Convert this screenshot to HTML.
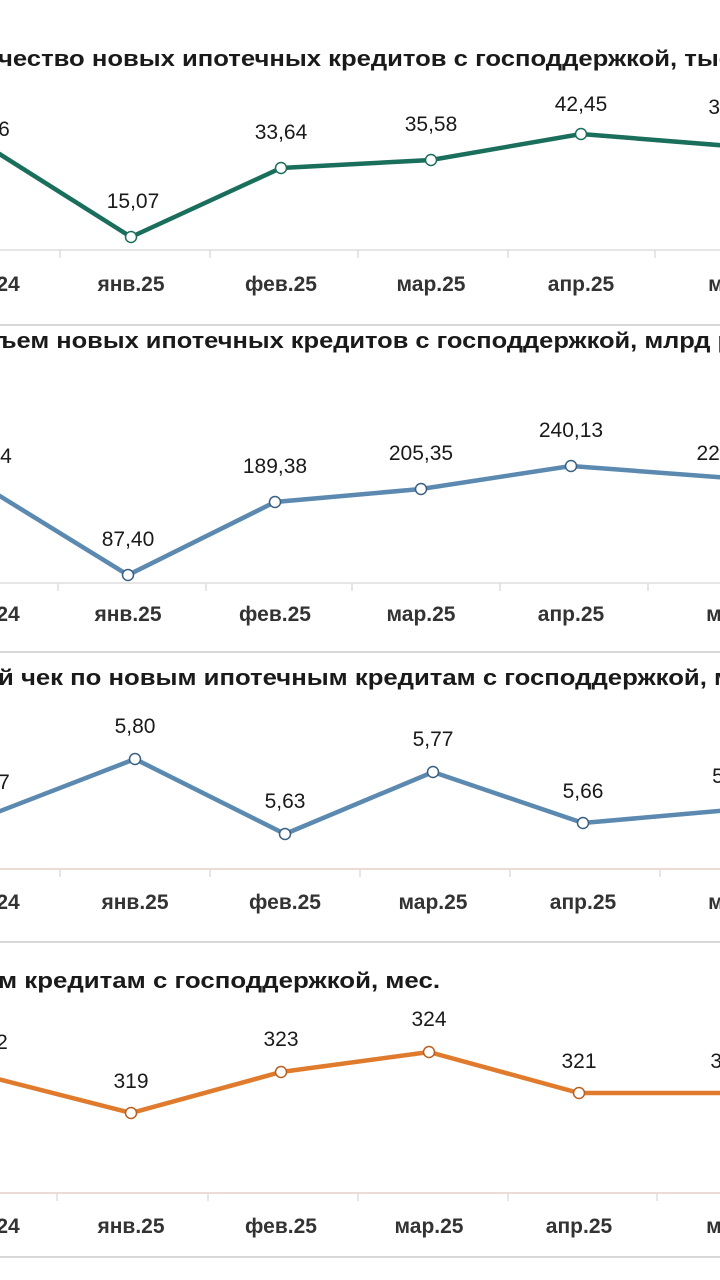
<!DOCTYPE html>
<html><head><meta charset="utf-8"><style>
html,body{margin:0;padding:0;background:#fff;width:720px;height:1280px;overflow:hidden}
svg{display:block}
text{font-family:"Liberation Sans Narrow","Liberation Sans","DejaVu Sans Condensed",sans-serif;fill:#1a1a1a}
.t{font-size:22px;font-weight:bold}
.v{font-size:21px;text-anchor:middle}
.c{font-size:21px;font-weight:bold;text-anchor:middle;fill:#333}
</style></head><body>
<svg width="720" height="1280" viewBox="0 0 720 1280">
<!-- Panel 1 -->
<text class="t" x="-2" y="66" textLength="735" lengthAdjust="spacingAndGlyphs">чество новых ипотечных кредитов с господдержкой, тыс</text>
<line x1="0" y1="250" x2="720" y2="250" stroke="#ddd" stroke-width="1.5"/>
<g stroke="#ddd" stroke-width="1.5"><line x1="60" y1="250" x2="60" y2="258"/><line x1="210" y1="250" x2="210" y2="258"/><line x1="358" y1="250" x2="358" y2="258"/><line x1="508" y1="250" x2="508" y2="258"/><line x1="655" y1="250" x2="655" y2="258"/></g>
<polyline points="-10,148 131,237 281,168 431,160 581,134 730,146" fill="none" stroke="#1a6e5c" stroke-width="4.5"/>
<g fill="#fff" stroke="#1a6e5c" stroke-width="1.5"><circle cx="131" cy="237" r="5.5"/><circle cx="281" cy="168" r="5.5"/><circle cx="431" cy="160" r="5.5"/><circle cx="581" cy="134" r="5.5"/></g>
<text class="v" x="4" y="136">6</text><text class="v" x="133" y="208">15,07</text><text class="v" x="281" y="139">33,64</text><text class="v" x="431" y="131">35,58</text><text class="v" x="581" y="111">42,45</text><text class="v" x="720" y="114">39</text>
<text class="c" x="8" y="291">24</text><text class="c" x="131" y="291">янв.25</text><text class="c" x="281" y="291">фев.25</text><text class="c" x="431" y="291">мар.25</text><text class="c" x="581" y="291">апр.25</text><text class="c" x="728" y="291">май</text>
<line x1="0" y1="325" x2="720" y2="325" stroke="#d8d8d8" stroke-width="2"/>
<!-- Panel 2 -->
<text class="t" x="-2" y="348" textLength="735" lengthAdjust="spacingAndGlyphs">ъем новых ипотечных кредитов с господдержкой, млрд р</text>
<line x1="0" y1="583" x2="720" y2="583" stroke="#ddd" stroke-width="1.5"/>
<g stroke="#ddd" stroke-width="1.5"><line x1="58" y1="583" x2="58" y2="591"/><line x1="206" y1="583" x2="206" y2="591"/><line x1="352" y1="583" x2="352" y2="591"/><line x1="500" y1="583" x2="500" y2="591"/><line x1="648" y1="583" x2="648" y2="591"/></g>
<polyline points="-10,490 128,575 275,502 421,489 571,466 730,478" fill="none" stroke="#5b89b0" stroke-width="4.5"/>
<g fill="#fff" stroke="#3a5f80" stroke-width="1.5"><circle cx="128" cy="575" r="5.5"/><circle cx="275" cy="502" r="5.5"/><circle cx="421" cy="489" r="5.5"/><circle cx="571" cy="466" r="5.5"/></g>
<text class="v" x="6" y="463">4</text><text class="v" x="128" y="546">87,40</text><text class="v" x="275" y="473">189,38</text><text class="v" x="421" y="460">205,35</text><text class="v" x="571" y="437">240,13</text><text class="v" x="714" y="460">227</text>
<text class="c" x="8" y="621">24</text><text class="c" x="128" y="621">янв.25</text><text class="c" x="275" y="621">фев.25</text><text class="c" x="421" y="621">мар.25</text><text class="c" x="571" y="621">апр.25</text><text class="c" x="726" y="621">май</text>
<line x1="0" y1="652" x2="720" y2="652" stroke="#d8d8d8" stroke-width="2"/>
<!-- Panel 3 -->
<text class="t" x="-2" y="685" textLength="735" lengthAdjust="spacingAndGlyphs">й чек по новым ипотечным кредитам с господдержкой, м</text>
<line x1="0" y1="869" x2="720" y2="869" stroke="#e6cfc8" stroke-width="1.5"/>
<g stroke="#ddd" stroke-width="1.5"><line x1="60" y1="869" x2="60" y2="877"/><line x1="210" y1="869" x2="210" y2="877"/><line x1="360" y1="869" x2="360" y2="877"/><line x1="510" y1="869" x2="510" y2="877"/><line x1="660" y1="869" x2="660" y2="877"/></g>
<polyline points="-10,815 135,759 285,834 433,772 583,823 730,810" fill="none" stroke="#5b89b0" stroke-width="4.5"/>
<g fill="#fff" stroke="#3a5f80" stroke-width="1.5"><circle cx="135" cy="759" r="5.5"/><circle cx="285" cy="834" r="5.5"/><circle cx="433" cy="772" r="5.5"/><circle cx="583" cy="823" r="5.5"/></g>
<text class="v" x="4" y="789">7</text><text class="v" x="135" y="733">5,80</text><text class="v" x="285" y="808">5,63</text><text class="v" x="433" y="746">5,77</text><text class="v" x="583" y="798">5,66</text><text class="v" x="718" y="783">5</text>
<text class="c" x="8" y="909">24</text><text class="c" x="135" y="909">янв.25</text><text class="c" x="285" y="909">фев.25</text><text class="c" x="433" y="909">мар.25</text><text class="c" x="583" y="909">апр.25</text><text class="c" x="728" y="909">май</text>
<line x1="0" y1="942" x2="720" y2="942" stroke="#d8d8d8" stroke-width="2"/>
<!-- Panel 4 -->
<text class="t" x="-2" y="988" textLength="442" lengthAdjust="spacingAndGlyphs">м кредитам с господдержкой, мес.</text>
<line x1="0" y1="1193" x2="720" y2="1193" stroke="#e6cfc8" stroke-width="1.5"/>
<g stroke="#ddd" stroke-width="1.5"><line x1="57" y1="1193" x2="57" y2="1201"/><line x1="208" y1="1193" x2="208" y2="1201"/><line x1="358" y1="1193" x2="358" y2="1201"/><line x1="508" y1="1193" x2="508" y2="1201"/><line x1="657" y1="1193" x2="657" y2="1201"/></g>
<polyline points="-10,1077 131,1113 281,1072 429,1052 579,1093 730,1093" fill="none" stroke="#e07b2e" stroke-width="4.5"/>
<g fill="#fff" stroke="#b85e1e" stroke-width="1.5"><circle cx="131" cy="1113" r="5.5"/><circle cx="281" cy="1072" r="5.5"/><circle cx="429" cy="1052" r="5.5"/><circle cx="579" cy="1093" r="5.5"/></g>
<text class="v" x="2" y="1049">2</text><text class="v" x="131" y="1088">319</text><text class="v" x="281" y="1046">323</text><text class="v" x="429" y="1026">324</text><text class="v" x="579" y="1068">321</text><text class="v" x="722" y="1068">32</text>
<text class="c" x="8" y="1233">24</text><text class="c" x="131" y="1233">янв.25</text><text class="c" x="281" y="1233">фев.25</text><text class="c" x="429" y="1233">мар.25</text><text class="c" x="579" y="1233">апр.25</text><text class="c" x="726" y="1233">май</text>
<line x1="0" y1="1257" x2="720" y2="1257" stroke="#d8d8d8" stroke-width="2"/>
</svg>
</body></html>
